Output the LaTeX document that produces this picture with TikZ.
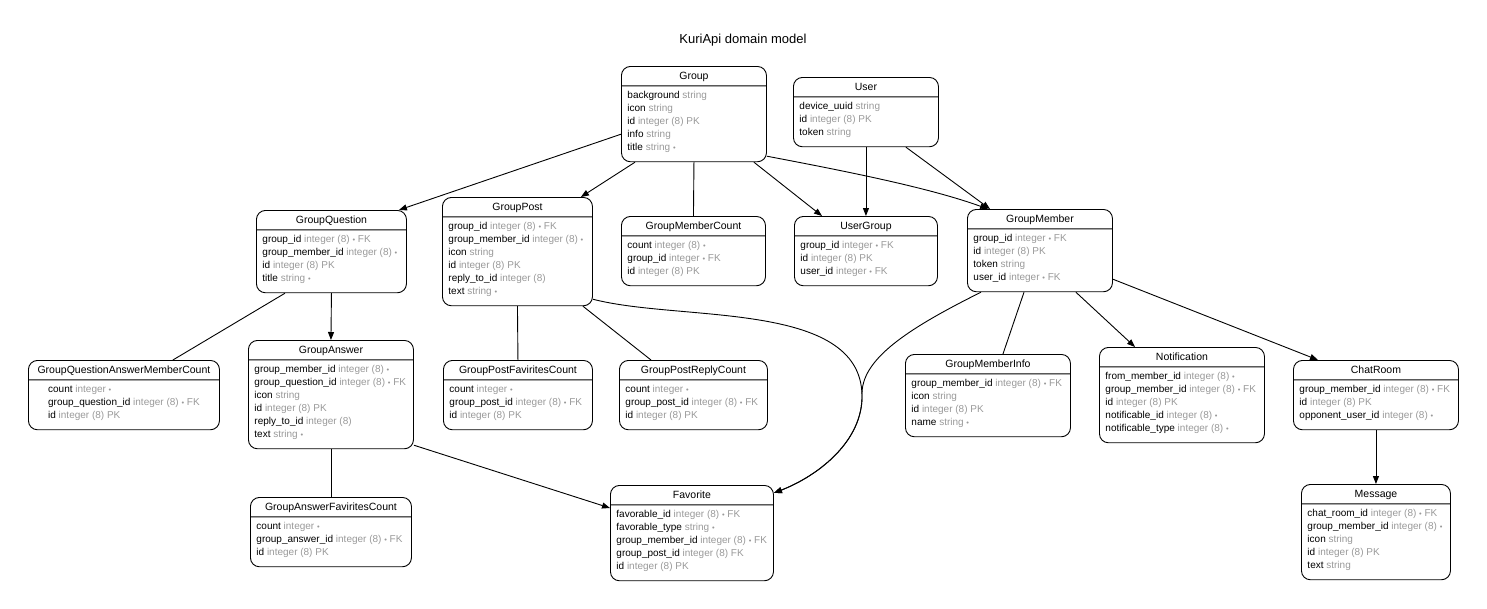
\documentclass[tikz,border=0pt]{standalone}
\usepackage{fontspec}
\setmainfont{Liberation Sans}
\usetikzlibrary{shapes.multipart,arrows.meta}

\definecolor{typegray}{HTML}{999999}
\newcommand{\etitle}[1]{{\fontsize{10.5}{12}\selectfont\smash{#1}\rule[-0.5pt]{0pt}{8.5pt}}}
\newcommand{\fields}[1]{\raisebox{1.5pt}[\height][\depth]{\begin{tabular}{@{}l@{}}#1\end{tabular}}}
\newcommand{\fld}[2]{#1 \textcolor{typegray}{#2}}
\newcommand{\nn}{{\fontsize{7.5}{7.5}\selectfont •}}

\begin{document}
\begin{tikzpicture}[x=1pt, y=-1pt, >={Triangle[length=8pt,width=6pt]}, line width=0.9pt,
  entity/.style={draw, rounded corners=9pt, rectangle split, rectangle split parts=2,
    rectangle split part align={center,left}, inner xsep=6pt, inner ysep=5pt,
    anchor=north west, font=\fontsize{10}{13}\selectfont}]
\useasboundingbox (0,0) rectangle (1487,608);

\node[font=\fontsize{13}{15}\selectfont] (title) at (743,40) {KuriApi domain model};

\node[entity, minimum width=145pt] (group) at (621,66) {\etitle{Group}\nodepart{two}\fields{%
\fld{background}{string}\\
\fld{icon}{string}\\
\fld{id}{integer (8) PK}\\
\fld{info}{string}\\
\fld{title}{string \nn}}};

\node[entity, minimum width=145pt] (user) at (793,77) {\etitle{User}\nodepart{two}\fields{%
\fld{device\_uuid}{string}\\
\fld{id}{integer (8) PK}\\
\fld{token}{string}}};

\node[entity, minimum width=150pt] (gquestion) at (256,210) {\etitle{GroupQuestion}\nodepart{two}\fields{%
\fld{group\_id}{integer (8) \nn{} FK}\\
\fld{group\_member\_id}{integer (8) \nn}\\
\fld{id}{integer (8) PK}\\
\fld{title}{string \nn}}};

\node[entity, minimum width=150pt] (gpost) at (442,197) {\etitle{GroupPost}\nodepart{two}\fields{%
\fld{group\_id}{integer (8) \nn{} FK}\\
\fld{group\_member\_id}{integer (8) \nn}\\
\fld{icon}{string}\\
\fld{id}{integer (8) PK}\\
\fld{reply\_to\_id}{integer (8)}\\
\fld{text}{string \nn}}};

\node[entity, minimum width=144pt] (gmcount) at (621,216) {\etitle{GroupMemberCount}\nodepart{two}\fields{%
\fld{count}{integer (8) \nn}\\
\fld{group\_id}{integer \nn{} FK}\\
\fld{id}{integer (8) PK}}};

\node[entity, minimum width=143pt] (usergroup) at (794,216) {\etitle{UserGroup}\nodepart{two}\fields{%
\fld{group\_id}{integer \nn{} FK}\\
\fld{id}{integer (8) PK}\\
\fld{user\_id}{integer \nn{} FK}}};

\node[entity, minimum width=145pt] (gmember) at (967,209) {\etitle{GroupMember}\nodepart{two}\fields{%
\fld{group\_id}{integer \nn{} FK}\\
\fld{id}{integer (8) PK}\\
\fld{token}{string}\\
\fld{user\_id}{integer \nn{} FK}}};

\node[entity, minimum width=191pt, rectangle split part align={center,center}] (gqamcount) at (28,360) {\etitle{GroupQuestionAnswerMemberCount}\nodepart{two}\fields{%
\fld{count}{integer \nn}\\
\fld{group\_question\_id}{integer (8) \nn{} FK}\\
\fld{id}{integer (8) PK}}};

\node[entity, minimum width=165pt] (ganswer) at (248,340) {\etitle{GroupAnswer}\nodepart{two}\fields{%
\fld{group\_member\_id}{integer (8) \nn}\\
\fld{group\_question\_id}{integer (8) \nn{} FK}\\
\fld{icon}{string}\\
\fld{id}{integer (8) PK}\\
\fld{reply\_to\_id}{integer (8)}\\
\fld{text}{string \nn}}};

\node[entity, minimum width=149pt] (gpfcount) at (443,360) {\etitle{GroupPostFaviritesCount}\nodepart{two}\fields{%
\fld{count}{integer \nn}\\
\fld{group\_post\_id}{integer (8) \nn{} FK}\\
\fld{id}{integer (8) PK}}};

\node[entity, minimum width=148pt] (gprcount) at (619,360) {\etitle{GroupPostReplyCount}\nodepart{two}\fields{%
\fld{count}{integer \nn}\\
\fld{group\_post\_id}{integer (8) \nn{} FK}\\
\fld{id}{integer (8) PK}}};

\node[entity, minimum width=165pt] (gminfo) at (905,354) {\etitle{GroupMemberInfo}\nodepart{two}\fields{%
\fld{group\_member\_id}{integer (8) \nn{} FK}\\
\fld{icon}{string}\\
\fld{id}{integer (8) PK}\\
\fld{name}{string \nn}}};

\node[entity, minimum width=165pt] (notification) at (1099,347) {\etitle{Notification}\nodepart{two}\fields{%
\fld{from\_member\_id}{integer (8) \nn}\\
\fld{group\_member\_id}{integer (8) \nn{} FK}\\
\fld{id}{integer (8) PK}\\
\fld{notificable\_id}{integer (8) \nn}\\
\fld{notificable\_type}{integer (8) \nn}}};

\node[entity, minimum width=165pt] (chatroom) at (1293,360) {\etitle{ChatRoom}\nodepart{two}\fields{%
\fld{group\_member\_id}{integer (8) \nn{} FK}\\
\fld{id}{integer (8) PK}\\
\fld{opponent\_user\_id}{integer (8) \nn}}};

\node[entity, minimum width=163pt] (favorite) at (610,485) {\etitle{Favorite}\nodepart{two}\fields{%
\fld{favorable\_id}{integer (8) \nn{} FK}\\
\fld{favorable\_type}{string \nn}\\
\fld{group\_member\_id}{integer (8) \nn{} FK}\\
\fld{group\_post\_id}{integer (8) FK}\\
\fld{id}{integer (8) PK}}};

\node[entity, minimum width=161pt] (gafcount) at (250,497) {\etitle{GroupAnswerFaviritesCount}\nodepart{two}\fields{%
\fld{count}{integer \nn}\\
\fld{group\_answer\_id}{integer (8) \nn{} FK}\\
\fld{id}{integer (8) PK}}};

\node[entity, minimum width=149pt] (message) at (1301,484) {\etitle{Message}\nodepart{two}\fields{%
\fld{chat\_room\_id}{integer (8) \nn{} FK}\\
\fld{group\_member\_id}{integer (8) \nn}\\
\fld{icon}{string}\\
\fld{id}{integer (8) PK}\\
\fld{text}{string}}};

\coordinate (favjoin) at (862,395);

% relations
\draw[->] ([yshift=28pt]group.south west) -- ([xshift=-8pt]gquestion.north east);
\draw[->] ([xshift=14pt]group.south west) -- ([xshift=-12pt]gpost.north east);
\draw (group.south) -- (gmcount.north);
\draw[->] ([xshift=-13pt]group.south east) -- ([xshift=28pt]usergroup.north west);
\draw[->] ([yshift=6pt]group.south east) .. controls (850,172) and (930,188) .. ([xshift=21pt]gmember.north west);
\draw[->] (user.south) -- (usergroup.north);
\draw[->] ([xshift=40pt]user.south) -- ([xshift=23pt]gmember.north west);
\draw[->] (gquestion.south) -- (ganswer.north);
\draw ([xshift=29pt]gquestion.south west) -- ([xshift=-47pt]gqamcount.north east);
\draw (gpost.south) -- (gpfcount.north);
\draw ([xshift=-10pt]gpost.south east) -- ([xshift=32pt]gprcount.north west);
\draw[->] ([yshift=7pt]gpost.south east) .. controls (680,322) and (860,300) .. (favjoin)
  .. controls (863,440) and (820,475) .. ([yshift=-8pt]favorite.north east);
\draw[->] ([xshift=14pt]gmember.south west) .. controls (905,330) and (861,360) .. (favjoin)
  .. controls (863,440) and (820,475) .. ([yshift=-8pt]favorite.north east);
\draw ([xshift=57pt]gmember.south west) -- ([xshift=15pt]gminfo.north);
\draw[->] ([xshift=-37pt]gmember.south east) -- ([xshift=36pt]notification.north west);
\draw[->] ([yshift=13pt]gmember.south east) -- ([xshift=25pt]chatroom.north west);
\draw[->] (chatroom.south) -- (message.north);
\draw[->] ([yshift=4pt]ganswer.south east) -- ([yshift=-23pt]favorite.north west);
\draw (ganswer.south) -- (gafcount.north);
\end{tikzpicture}
\end{document}
